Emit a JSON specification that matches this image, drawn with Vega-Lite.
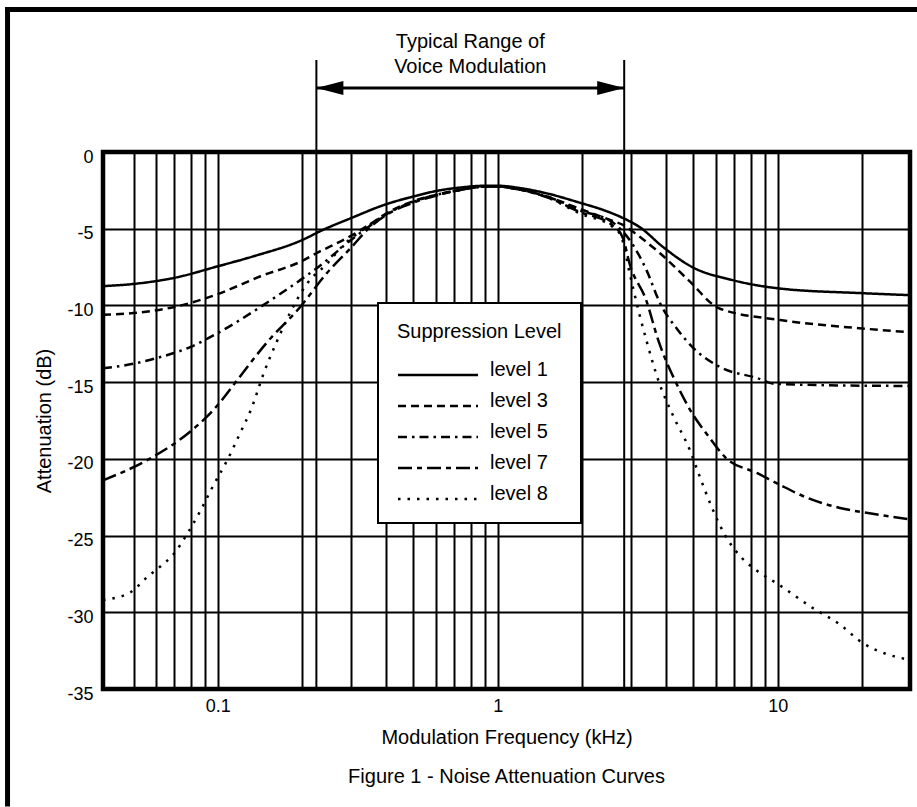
{
  "$schema": "https://vega.github.io/schema/vega-lite/v6.json",
  "width": 807,
  "height": 537,
  "autosize": {"type": "none"},
  "padding": {"left": 103, "top": 152, "right": 7, "bottom": 118},
  "background": "white",
  "title": {"text": "Figure 1 - Noise Attenuation Curves", "orient": "bottom", "anchor": "middle", "offset": -41, "fontSize": 20, "fontWeight": "normal", "color": "black", "font": "Liberation Sans"},
  "datasets": {
    "voice": [{"f": 0.225, "side": "left"}, {"f": 2.83, "side": "right"}],
    "range": [{"lo": 0.225, "hi": 2.83, "mid": 0.798, "label": "Typical Range of\nVoice Modulation"}],
    "curves": [
      {"level": "level 1", "f": 0.0389, "db": -8.74},
      {"level": "level 1", "f": 0.05, "db": -8.6},
      {"level": "level 1", "f": 0.07, "db": -8.2},
      {"level": "level 1", "f": 0.1, "db": -7.45},
      {"level": "level 1", "f": 0.134, "db": -6.8},
      {"level": "level 1", "f": 0.2, "db": -5.74},
      {"level": "level 1", "f": 0.236, "db": -5.1},
      {"level": "level 1", "f": 0.3, "db": -4.3},
      {"level": "level 1", "f": 0.4, "db": -3.4},
      {"level": "level 1", "f": 0.5, "db": -2.9},
      {"level": "level 1", "f": 0.6, "db": -2.55},
      {"level": "level 1", "f": 0.75, "db": -2.3},
      {"level": "level 1", "f": 0.9, "db": -2.2},
      {"level": "level 1", "f": 1.0, "db": -2.2},
      {"level": "level 1", "f": 1.2, "db": -2.35},
      {"level": "level 1", "f": 1.5, "db": -2.7},
      {"level": "level 1", "f": 1.96, "db": -3.3},
      {"level": "level 1", "f": 2.4, "db": -3.8},
      {"level": "level 1", "f": 2.8, "db": -4.3},
      {"level": "level 1", "f": 3.2, "db": -4.87},
      {"level": "level 1", "f": 3.9, "db": -6.2},
      {"level": "level 1", "f": 4.95, "db": -7.5},
      {"level": "level 1", "f": 6.9, "db": -8.35},
      {"level": "level 1", "f": 10.2, "db": -8.9},
      {"level": "level 1", "f": 20, "db": -9.2},
      {"level": "level 1", "f": 29.7, "db": -9.33},

      {"level": "level 3", "f": 0.0389, "db": -10.6},
      {"level": "level 3", "f": 0.05, "db": -10.5},
      {"level": "level 3", "f": 0.07, "db": -10.1},
      {"level": "level 3", "f": 0.1, "db": -9.26},
      {"level": "level 3", "f": 0.142, "db": -8.1},
      {"level": "level 3", "f": 0.2, "db": -7.1},
      {"level": "level 3", "f": 0.225, "db": -6.6},
      {"level": "level 3", "f": 0.3, "db": -5.45},
      {"level": "level 3", "f": 0.35, "db": -4.7},
      {"level": "level 3", "f": 0.4, "db": -4.0},
      {"level": "level 3", "f": 0.5, "db": -3.2},
      {"level": "level 3", "f": 0.6, "db": -2.8},
      {"level": "level 3", "f": 0.7, "db": -2.55},
      {"level": "level 3", "f": 0.8, "db": -2.35},
      {"level": "level 3", "f": 0.9, "db": -2.25},
      {"level": "level 3", "f": 1.0, "db": -2.25},
      {"level": "level 3", "f": 1.2, "db": -2.45},
      {"level": "level 3", "f": 1.5, "db": -2.9},
      {"level": "level 3", "f": 1.96, "db": -3.7},
      {"level": "level 3", "f": 2.58, "db": -4.5},
      {"level": "level 3", "f": 2.8, "db": -4.75},
      {"level": "level 3", "f": 3.2, "db": -5.5},
      {"level": "level 3", "f": 3.8, "db": -6.6},
      {"level": "level 3", "f": 4.8, "db": -8.35},
      {"level": "level 3", "f": 6.2, "db": -10.2},
      {"level": "level 3", "f": 10.2, "db": -10.95},
      {"level": "level 3", "f": 20, "db": -11.5},
      {"level": "level 3", "f": 29.7, "db": -11.75},

      {"level": "level 5", "f": 0.0389, "db": -14.1},
      {"level": "level 5", "f": 0.05, "db": -13.8},
      {"level": "level 5", "f": 0.06, "db": -13.45},
      {"level": "level 5", "f": 0.08, "db": -12.7},
      {"level": "level 5", "f": 0.1, "db": -11.8},
      {"level": "level 5", "f": 0.142, "db": -10.1},
      {"level": "level 5", "f": 0.197, "db": -8.35},
      {"level": "level 5", "f": 0.238, "db": -7.25},
      {"level": "level 5", "f": 0.289, "db": -5.95},
      {"level": "level 5", "f": 0.35, "db": -4.8},
      {"level": "level 5", "f": 0.4, "db": -4.05},
      {"level": "level 5", "f": 0.5, "db": -3.25},
      {"level": "level 5", "f": 0.6, "db": -2.8},
      {"level": "level 5", "f": 0.7, "db": -2.55},
      {"level": "level 5", "f": 0.8, "db": -2.35},
      {"level": "level 5", "f": 0.9, "db": -2.25},
      {"level": "level 5", "f": 1.0, "db": -2.25},
      {"level": "level 5", "f": 1.2, "db": -2.45},
      {"level": "level 5", "f": 1.5, "db": -2.9},
      {"level": "level 5", "f": 1.96, "db": -3.8},
      {"level": "level 5", "f": 2.58, "db": -4.6},
      {"level": "level 5", "f": 2.96, "db": -5.74},
      {"level": "level 5", "f": 3.4, "db": -7.7},
      {"level": "level 5", "f": 3.8, "db": -9.85},
      {"level": "level 5", "f": 4.4, "db": -11.6},
      {"level": "level 5", "f": 4.95, "db": -12.7},
      {"level": "level 5", "f": 6.2, "db": -14.0},
      {"level": "level 5", "f": 8.5, "db": -14.75},
      {"level": "level 5", "f": 9.7, "db": -15.1},
      {"level": "level 5", "f": 15, "db": -15.2},
      {"level": "level 5", "f": 29.7, "db": -15.25},

      {"level": "level 7", "f": 0.0389, "db": -21.4},
      {"level": "level 7", "f": 0.057, "db": -20.0},
      {"level": "level 7", "f": 0.08, "db": -18.2},
      {"level": "level 7", "f": 0.092, "db": -17.2},
      {"level": "level 7", "f": 0.102, "db": -16.3},
      {"level": "level 7", "f": 0.117, "db": -14.9},
      {"level": "level 7", "f": 0.15, "db": -12.4},
      {"level": "level 7", "f": 0.197, "db": -10.1},
      {"level": "level 7", "f": 0.245, "db": -7.9},
      {"level": "level 7", "f": 0.297, "db": -6.3},
      {"level": "level 7", "f": 0.35, "db": -4.9},
      {"level": "level 7", "f": 0.4, "db": -4.1},
      {"level": "level 7", "f": 0.5, "db": -3.3},
      {"level": "level 7", "f": 0.6, "db": -2.85},
      {"level": "level 7", "f": 0.7, "db": -2.55},
      {"level": "level 7", "f": 0.8, "db": -2.35},
      {"level": "level 7", "f": 0.9, "db": -2.25},
      {"level": "level 7", "f": 1.0, "db": -2.25},
      {"level": "level 7", "f": 1.2, "db": -2.45},
      {"level": "level 7", "f": 1.5, "db": -2.95},
      {"level": "level 7", "f": 1.96, "db": -3.9},
      {"level": "level 7", "f": 2.58, "db": -4.8},
      {"level": "level 7", "f": 2.8, "db": -5.6},
      {"level": "level 7", "f": 2.96, "db": -7.3},
      {"level": "level 7", "f": 3.39, "db": -9.65},
      {"level": "level 7", "f": 3.75, "db": -12.3},
      {"level": "level 7", "f": 4.3, "db": -14.9},
      {"level": "level 7", "f": 4.9, "db": -16.9},
      {"level": "level 7", "f": 5.7, "db": -18.6},
      {"level": "level 7", "f": 6.5, "db": -19.9},
      {"level": "level 7", "f": 8.5, "db": -20.95},
      {"level": "level 7", "f": 10.2, "db": -21.7},
      {"level": "level 7", "f": 12.6, "db": -22.5},
      {"level": "level 7", "f": 16.7, "db": -23.2},
      {"level": "level 7", "f": 21.3, "db": -23.55},
      {"level": "level 7", "f": 29.7, "db": -23.95},

      {"level": "level 8", "f": 0.0389, "db": -29.2},
      {"level": "level 8", "f": 0.0487, "db": -28.7},
      {"level": "level 8", "f": 0.056, "db": -27.7},
      {"level": "level 8", "f": 0.062, "db": -27.05},
      {"level": "level 8", "f": 0.0696, "db": -26.2},
      {"level": "level 8", "f": 0.0777, "db": -24.9},
      {"level": "level 8", "f": 0.0866, "db": -23.4},
      {"level": "level 8", "f": 0.0966, "db": -21.7},
      {"level": "level 8", "f": 0.108, "db": -20.1},
      {"level": "level 8", "f": 0.12, "db": -18.35},
      {"level": "level 8", "f": 0.132, "db": -16.7},
      {"level": "level 8", "f": 0.146, "db": -14.4},
      {"level": "level 8", "f": 0.163, "db": -12.3},
      {"level": "level 8", "f": 0.181, "db": -10.5},
      {"level": "level 8", "f": 0.208, "db": -8.6},
      {"level": "level 8", "f": 0.245, "db": -7.3},
      {"level": "level 8", "f": 0.28, "db": -6.1},
      {"level": "level 8", "f": 0.35, "db": -4.75},
      {"level": "level 8", "f": 0.4, "db": -4.05},
      {"level": "level 8", "f": 0.5, "db": -3.25},
      {"level": "level 8", "f": 0.6, "db": -2.8},
      {"level": "level 8", "f": 0.7, "db": -2.55},
      {"level": "level 8", "f": 0.8, "db": -2.35},
      {"level": "level 8", "f": 0.9, "db": -2.25},
      {"level": "level 8", "f": 1.0, "db": -2.25},
      {"level": "level 8", "f": 1.2, "db": -2.45},
      {"level": "level 8", "f": 1.5, "db": -2.95},
      {"level": "level 8", "f": 1.96, "db": -4.0},
      {"level": "level 8", "f": 2.58, "db": -4.9},
      {"level": "level 8", "f": 2.76, "db": -5.5},
      {"level": "level 8", "f": 2.96, "db": -7.9},
      {"level": "level 8", "f": 3.2, "db": -10.5},
      {"level": "level 8", "f": 3.4, "db": -12.3},
      {"level": "level 8", "f": 3.75, "db": -14.9},
      {"level": "level 8", "f": 4.26, "db": -17.3},
      {"level": "level 8", "f": 4.85, "db": -19.4},
      {"level": "level 8", "f": 5.23, "db": -21.0},
      {"level": "level 8", "f": 5.8, "db": -23.1},
      {"level": "level 8", "f": 6.5, "db": -25.0},
      {"level": "level 8", "f": 7.4, "db": -26.4},
      {"level": "level 8", "f": 8.3, "db": -27.2},
      {"level": "level 8", "f": 10.1, "db": -28.2},
      {"level": "level 8", "f": 13.3, "db": -29.7},
      {"level": "level 8", "f": 16.7, "db": -30.8},
      {"level": "level 8", "f": 20.1, "db": -32.0},
      {"level": "level 8", "f": 24.3, "db": -32.7},
      {"level": "level 8", "f": 29.7, "db": -33.1}
    ]
  },
  "layer": [
    {
      "data": {"values": [{}]},
      "mark": {"type": "rule", "stroke": "black", "strokeWidth": 5, "clip": false, "strokeCap": "square"},
      "encoding": {
        "x": {"datum": 0.01774, "type": "quantitative", "scale": {"type": "log", "domain": [0.0389, 29.7], "nice": false}},
        "x2": {"datum": 1000},
        "y": {"datum": 9.29, "type": "quantitative", "scale": {"domain": [-35, 0], "nice": false, "zero": false}}
      }
    },
    {
      "data": {"values": [{}]},
      "mark": {"type": "rule", "stroke": "black", "strokeWidth": 5, "clip": false, "strokeCap": "square"},
      "encoding": {
        "x": {"datum": 0.01774, "type": "quantitative", "scale": {"type": "log", "domain": [0.0389, 29.7], "nice": false}},
        "y": {"datum": 9.29, "type": "quantitative", "scale": {"domain": [-35, 0], "nice": false, "zero": false}},
        "y2": {"datum": -42.5}
      }
    },
    {
      "data": {"name": "voice"},
      "mark": {"type": "rule", "stroke": "black", "strokeWidth": 2, "clip": false},
      "encoding": {
        "x": {"field": "f", "type": "quantitative", "scale": {"type": "log", "domain": [0.0389, 29.7], "nice": false}},
        "y": {"datum": 6.0, "type": "quantitative", "scale": {"domain": [-35, 0], "nice": false, "zero": false}},
        "y2": {"datum": -35}
      }
    },
    {
      "data": {"name": "range"},
      "mark": {"type": "rule", "stroke": "black", "strokeWidth": 3, "clip": false},
      "encoding": {
        "x": {"field": "lo", "type": "quantitative", "scale": {"type": "log", "domain": [0.0389, 29.7], "nice": false}},
        "x2": {"field": "hi"},
        "y": {"datum": 4.17, "type": "quantitative", "scale": {"domain": [-35, 0], "nice": false, "zero": false}}
      }
    },
    {
      "data": {"name": "voice"},
      "mark": {"type": "point", "filled": true, "color": "black", "opacity": 1, "size": 729, "clip": false},
      "encoding": {
        "x": {"field": "f", "type": "quantitative", "scale": {"type": "log", "domain": [0.0389, 29.7], "nice": false}},
        "y": {"datum": 4.17, "type": "quantitative", "scale": {"domain": [-35, 0], "nice": false, "zero": false}},
        "shape": {"field": "side", "type": "nominal", "scale": {"domain": ["left", "right"], "range": ["M0,0L2,-0.52L2,0.52Z", "M0,0L-2,-0.52L-2,0.52Z"]}, "legend": null}
      }
    },
    {
      "data": {"name": "range"},
      "mark": {"type": "text", "fontSize": 20, "lineHeight": 25, "baseline": "middle", "align": "center", "clip": false, "color": "black", "lineBreak": "\n", "font": "Liberation Sans"},
      "encoding": {
        "x": {"field": "mid", "type": "quantitative", "scale": {"type": "log", "domain": [0.0389, 29.7], "nice": false}},
        "y": {"datum": 7.17, "type": "quantitative", "scale": {"domain": [-35, 0], "nice": false, "zero": false}},
        "text": {"field": "label"}
      }
    },
    {
      "data": {"name": "curves"},
      "mark": {"type": "line", "interpolate": "monotone", "stroke": "black", "strokeWidth": 2.5, "clip": false},
      "encoding": {
        "x": {"field": "f", "type": "quantitative", "scale": {"type": "log", "domain": [0.0389, 29.7], "nice": false},
          "axis": {"title": "Modulation Frequency (kHz)", "values": [0.05, 0.06, 0.07, 0.08, 0.09, 0.1, 0.2, 0.3, 0.4, 0.5, 0.6, 0.7, 0.8, 0.9, 1, 2, 3, 4, 5, 6, 7, 8, 9, 10, 20],
            "labelExpr": "datum.value == 0.1 ? '0.1' : (datum.value == 1 ? '1' : (datum.value == 10 ? '10' : ''))",
            "labelFontSize": 18, "labelPadding": 8, "titleFontSize": 20, "titlePadding": 12, "labelFlush": false, "labelOverlap": false, "labelBound": false}},
        "y": {"field": "db", "type": "quantitative", "scale": {"domain": [-35, 0], "nice": false, "zero": false},
          "axis": {"title": "Attenuation (dB)", "values": [-35, -32.5, -30, -27.5, -25, -22.5, -20, -17.5, -15, -12.5, -10, -7.5, -5, -2.5, 0],
            "labelExpr": "datum.value % 5 == 0 ? '' + datum.value : ''",
            "labelFontSize": 18, "labelPadding": 10, "labelOffset": 5, "titleFontSize": 20, "titlePadding": 12, "labelFlush": false, "labelOverlap": false}},
        "strokeDash": {"field": "level", "type": "nominal",
          "scale": {"domain": ["level 1", "level 3", "level 5", "level 7", "level 8"], "range": [[1, 0], [8, 5], [9, 5, 2.5, 5], [14, 5, 5, 5], [2.5, 7]]},
          "legend": {"title": "Suppression Level", "orient": "none", "legendX": 275, "legendY": 151,
            "symbolType": "M-4,0.5H4", "symbolSize": 400, "symbolStrokeWidth": 2.5, "symbolStrokeColor": "black", "symbolOffset": 29.5,
            "labelOffset": 40.5, "rowPadding": 9, "titlePadding": 16.5, "padding": 19,
            "fillColor": "white", "strokeColor": "black",
            "labelFontSize": 20, "titleFontSize": 20, "titleFontWeight": "normal", "labelColor": "black", "titleColor": "black",
            "labelFont": "Liberation Sans", "titleFont": "Liberation Sans"}}
      }
    }
  ],
  "config": {
    "font": "Liberation Sans",
    "view": {"stroke": "black", "strokeWidth": 4.5},
    "axis": {"grid": true, "gridColor": "black", "gridOpacity": 1, "gridWidth": 2, "domain": false, "ticks": false,
      "labelColor": "black", "titleColor": "black", "titleFontWeight": "normal", "labelFont": "Liberation Sans", "titleFont": "Liberation Sans"},
    "legend": {"strokeWidth": 2}
  }
}
